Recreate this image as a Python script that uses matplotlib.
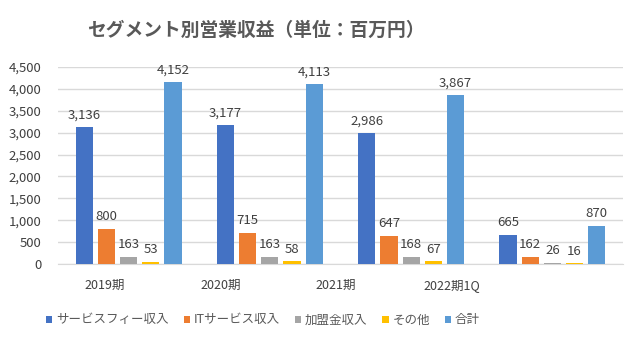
import matplotlib
matplotlib.use("Agg")
import matplotlib.pyplot as plt
import numpy as np

plt.rcParams['font.family'] = ['Noto Sans CJK JP', 'DejaVu Sans']

periods = ["2019期", "2020期", "2021期", "2022期1Q"]
series_names = ["サービスフィー収入", "ITサービス収入", "加盟金収入", "その他", "合計"]
service_fee = [3136, 3177, 2986, 665]
it_service = [800, 715, 647, 162]
franchise_fee = [163, 163, 168, 26]
other = [53, 58, 67, 16]
total = [4152, 4113, 3867, 870]
series_values = [service_fee, it_service, franchise_fee, other, total]
colors = ["#4472C4", "#ED7D31", "#A5A5A5", "#FFC000", "#5B9BD5"]
yticks = [0, 500, 1000, 1500, 2000, 2500, 3000, 3500, 4000, 4500]
# category label positions along the axis (shifted left of the bar groups)
label_pos = [-0.167, 0.654, 1.468, 2.29]

fig = plt.figure(figsize=(6.4, 3.4), dpi=100)
ax = fig.add_axes([58 / 640, 1 - 264 / 340, 565 / 640, (264 - 67) / 340])

x = np.arange(len(periods))
step = 0.157
width = 0.122
text_col = "#404040"
for i, (vals, c) in enumerate(zip(series_values, colors)):
    xs = x + (i - 2) * step
    ax.bar(xs, vals, width=width, color=c, zorder=3, label=series_names[i])
    for xi, v in zip(xs, vals):
        ax.annotate(f"{v:,}", (xi, v), xytext=(0, 4), textcoords="offset points",
                    ha="center", va="bottom", fontsize=9.5, color=text_col)

ax.set_xlim(-0.5, 3.5)
ax.set_ylim(0, 4500)
ax.set_yticks(yticks)
ax.set_yticklabels([f"{t:,}" for t in yticks], fontsize=9.5, color=text_col)
ax.set_xticks(label_pos)
ax.set_xticklabels(periods, fontsize=9, color=text_col)
ax.tick_params(axis="both", length=0)
ax.tick_params(axis="x", pad=11)
ax.tick_params(axis="y", pad=12)
ax.grid(axis="y", color="#D9D9D9", linewidth=1, zorder=0)
for s in ["top", "right", "left"]:
    ax.spines[s].set_visible(False)
ax.spines["bottom"].set_color("#D9D9D9")

fig.text(256 / 640, 1 - 30 / 340, "セグメント別営業収益（単位：百万円）", ha="center", va="center",
         fontsize=13.5, fontweight="bold", color="#595959")

fig.legend(loc="center", bbox_to_anchor=(263 / 640, 1 - 320 / 340), ncol=5, frameon=False,
           handlelength=0.5, handleheight=0.5, handletextpad=0.3, columnspacing=1.2,
           fontsize=9, labelcolor="#595959")

fig.savefig("out.png", dpi=100, facecolor="white")
